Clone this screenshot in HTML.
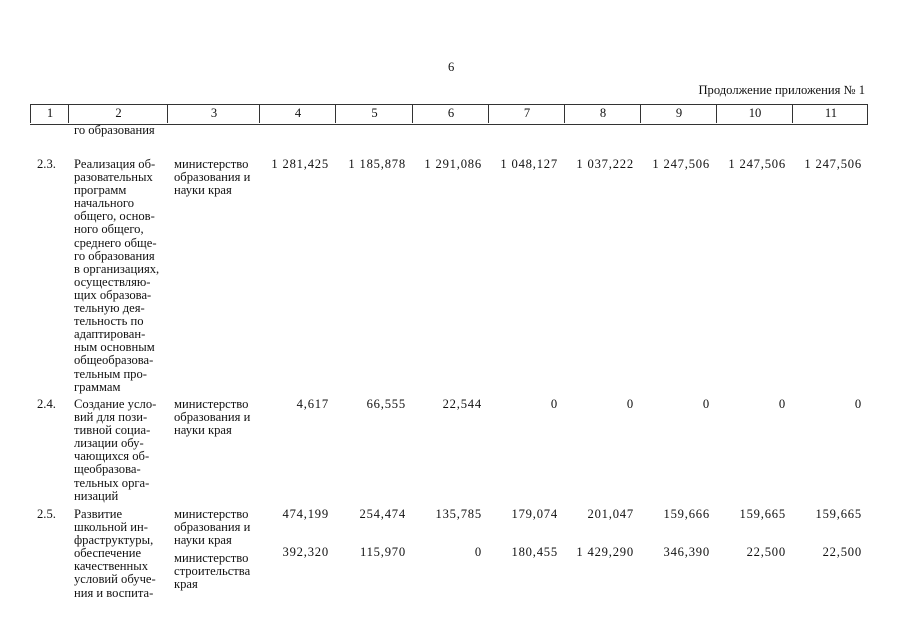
<!DOCTYPE html>
<html><head><meta charset="utf-8"><style>
body{margin:0;width:905px;height:640px;background:#fff;position:relative;overflow:hidden;font-family:"Liberation Serif",serif;font-size:12.6px;line-height:13.1px;color:#111}
div{position:absolute;white-space:nowrap}
.n{text-align:right;width:70px;letter-spacing:0.8px}
.h{top:104px;height:19px;border-left:1px solid #333;text-align:center;line-height:19px}
</style></head><body>
<div style="left:448px;top:61px">6</div>
<div style="left:640px;top:84px;width:225px;text-align:right">Продолжение приложения № 1</div>
<div style="left:30px;top:104px;width:837px;height:19px;border:1px solid #333;border-left:none"></div>
<div class="h" style="left:30px;width:38px">1</div>
<div class="h" style="left:68px;width:99px">2</div>
<div class="h" style="left:167px;width:92px">3</div>
<div class="h" style="left:259px;width:76px">4</div>
<div class="h" style="left:335px;width:77px">5</div>
<div class="h" style="left:412px;width:76px">6</div>
<div class="h" style="left:488px;width:76px">7</div>
<div class="h" style="left:564px;width:76px">8</div>
<div class="h" style="left:640px;width:76px">9</div>
<div class="h" style="left:716px;width:76px">10</div>
<div class="h" style="left:792px;width:76px">11</div>

<div style="left:74px;top:124px">го образования</div>

<div style="left:37px;top:158px">2.3.</div>
<div style="left:74px;top:158px">Реализация об-<br>разовательных<br>программ<br>начального<br>общего, основ-<br>ного общего,<br>среднего обще-<br>го образования<br>в организациях,<br>осуществляю-<br>щих образова-<br>тельную дея-<br>тельность по<br>адаптирован-<br>ным основным<br>общеобразова-<br>тельным про-<br>граммам</div>
<div style="left:174px;top:158px">министерство<br>образования и<br>науки края</div>
<div class="n" style="left:259px;top:158px">1 281,425</div>
<div class="n" style="left:336px;top:158px">1 185,878</div>
<div class="n" style="left:412px;top:158px">1 291,086</div>
<div class="n" style="left:488px;top:158px">1 048,127</div>
<div class="n" style="left:564px;top:158px">1 037,222</div>
<div class="n" style="left:640px;top:158px">1 247,506</div>
<div class="n" style="left:716px;top:158px">1 247,506</div>
<div class="n" style="left:792px;top:158px">1 247,506</div>

<div style="left:37px;top:398px">2.4.</div>
<div style="left:74px;top:398px">Создание усло-<br>вий для пози-<br>тивной социа-<br>лизации обу-<br>чающихся об-<br>щеобразова-<br>тельных орга-<br>низаций</div>
<div style="left:174px;top:398px">министерство<br>образования и<br>науки края</div>
<div class="n" style="left:259px;top:398px">4,617</div>
<div class="n" style="left:336px;top:398px">66,555</div>
<div class="n" style="left:412px;top:398px">22,544</div>
<div class="n" style="left:488px;top:398px">0</div>
<div class="n" style="left:564px;top:398px">0</div>
<div class="n" style="left:640px;top:398px">0</div>
<div class="n" style="left:716px;top:398px">0</div>
<div class="n" style="left:792px;top:398px">0</div>

<div style="left:37px;top:508px">2.5.</div>
<div style="left:74px;top:508px">Развитие<br>школьной ин-<br>фраструктуры,<br>обеспечение<br>качественных<br>условий обуче-<br>ния и воспита-</div>
<div style="left:174px;top:508px">министерство<br>образования и<br>науки края</div>
<div style="left:174px;top:552px">министерство<br>строительства<br>края</div>
<div class="n" style="left:259px;top:508px">474,199</div>
<div class="n" style="left:336px;top:508px">254,474</div>
<div class="n" style="left:412px;top:508px">135,785</div>
<div class="n" style="left:488px;top:508px">179,074</div>
<div class="n" style="left:564px;top:508px">201,047</div>
<div class="n" style="left:640px;top:508px">159,666</div>
<div class="n" style="left:716px;top:508px">159,665</div>
<div class="n" style="left:792px;top:508px">159,665</div>
<div class="n" style="left:259px;top:546px">392,320</div>
<div class="n" style="left:336px;top:546px">115,970</div>
<div class="n" style="left:412px;top:546px">0</div>
<div class="n" style="left:488px;top:546px">180,455</div>
<div class="n" style="left:564px;top:546px">1 429,290</div>
<div class="n" style="left:640px;top:546px">346,390</div>
<div class="n" style="left:716px;top:546px">22,500</div>
<div class="n" style="left:792px;top:546px">22,500</div>
</body></html>
